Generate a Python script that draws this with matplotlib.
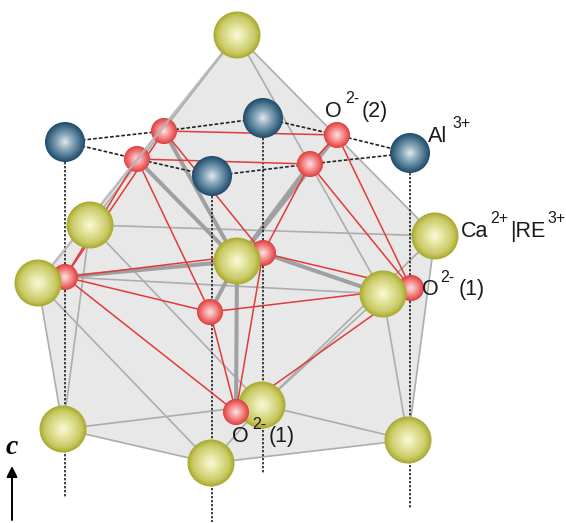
import numpy as np
import matplotlib
matplotlib.use("Agg")
import matplotlib.pyplot as plt
from matplotlib.colors import LinearSegmentedColormap
from matplotlib.patches import Circle, Polygon

# atom positions
yellow_names = ["top", "upleft", "left", "right_up", "right", "center", "bl", "bc", "bm", "br"]
yellow_x = [237, 90, 38, 435, 383, 237, 63, 262, 211, 408]
yellow_y = [35, 225, 283, 236, 294, 261, 429, 405, 463, 440]

blue_names = ["al1", "al2", "al3", "al4"]
blue_x = [65, 263, 212, 410]
blue_y = [142, 118, 176, 153]

red_names = ["a", "b", "c", "d", "l", "m", "n", "r", "o"]
red_x = [164, 137, 337, 310, 65, 263, 210, 411, 236]
red_y = [131, 159, 135, 164, 277, 253, 312, 288, 412]

hull = ["top", "right_up", "br", "bm", "bl", "left"]

thin_bonds = [("top", "right_up"), ("top", "right"), ("upleft", "right_up"), ("upleft", "bl"),
              ("upleft", "bc"), ("left", "bl"), ("left", "bm"), ("l", "right"),
              ("bl", "bc"), ("bl", "bm"), ("bm", "br"), ("bc", "br"), ("bm", "bc"),
              ("bc", "right"), ("bc", "right_up"), ("right", "br"), ("right_up", "br"),
              ("top", "upleft")]
thick_bonds = [("a", "center"), ("b", "center"), ("c", "center"), ("d", "center"),
               ("l", "center"), ("m", "right"), ("center", "o"), ("center", "n")]
red_bonds = [("a", "c"), ("b", "d"), ("a", "l"), ("b", "l"), ("a", "m"), ("b", "n"),
             ("c", "r"), ("d", "r"), ("c", "d"), ("d", "m"), ("l", "m"), ("l", "n"),
             ("l", "o"), ("n", "o"), ("m", "o"), ("n", "r"), ("m", "r"), ("o", "r")]
dash_bonds = [("al1", "a"), ("al1", "b"), ("a", "al2"), ("b", "al3"), ("al3", "d"),
              ("al2", "c"), ("c", "al4"), ("d", "al4")]

drop_names = ["al1", "al3", "al2", "al4"]
drop_end = [498, 522, 473, 508]

pos = {}
for names, xs, ys in [(yellow_names, yellow_x, yellow_y), (blue_names, blue_x, blue_y), (red_names, red_x, red_y)]:
    for n, x, y in zip(names, xs, ys):
        pos[n] = (x, y)

fig = plt.figure(figsize=(5.66, 5.23), dpi=100)
ax = fig.add_axes([0, 0, 1, 1])
ax.set_xlim(0, 566)
ax.set_ylim(523, 0)
ax.axis("off")

ax.add_patch(Polygon([pos[n] for n in hull], closed=True, fc="#e8e8e8", ec="none", zorder=1))


def bond(p, q, **kw):
    ax.plot([pos[p][0], pos[q][0]], [pos[p][1], pos[q][1]], solid_capstyle="butt", **kw)


for p, q in thin_bonds:
    bond(p, q, color="#adadad", lw=1.2, zorder=2)
for p, q in thick_bonds:
    bond(p, q, color="#a0a0a0", lw=2.9, zorder=2.5)
for p, q in dash_bonds:
    bond(p, q, color="#222222", lw=1.2, ls=(0, (2.2, 1.2)), zorder=3)
for n, end in zip(drop_names, drop_end):
    ax.plot([pos[n][0], pos[n][0]], [pos[n][1], end], color="#222222", lw=1.2, ls=(0, (1.4, 1)), zorder=3)
for p, q in red_bonds:
    bond(p, q, color="#e23a3a", lw=1.1, zorder=4)


def sphere(x, y, r, colors, z):
    cmap = LinearSegmentedColormap.from_list("s", colors)
    for f in np.linspace(1, 0.04, 30):
        ax.add_patch(Circle((x, y), r * f, fc=cmap(f), ec="none", zorder=z))


yellow_col = [(0, "#fbfbdc"), (0.35, "#e6e7a4"), (0.8, "#c8c962"), (1, "#a9ab30")]
blue_col = [(0, "#e6edf1"), (0.4, "#8aa8ba"), (0.8, "#416c88"), (1, "#234d6b")]
red_col = [(0, "#fde8e8"), (0.35, "#f8aaaa"), (0.8, "#ec5f5f"), (1, "#dc4242")]

for n, x, y in zip(blue_names, blue_x, blue_y):
    sphere(x, y, 20, blue_col, 6)
for n, x, y in zip(red_names, red_x, red_y):
    sphere(x, y, 13, red_col, 8 if n == "o" else 5)
for n, x, y in zip(yellow_names, yellow_x, yellow_y):
    sphere(x, y, 23.5, yellow_col, 7)

# hull edge runs over the two upper oxygens but under the big spheres
bond("top", "left", color="#b4b4b4", lw=1.9, alpha=0.85, zorder=5.5)

font = dict(family="Liberation Sans", color="#1a1a1a", zorder=10, va="baseline")
ax.text(325, 117, "O", fontsize=15.5, **font)
ax.text(345, 103, "2-", fontsize=11.5, **font)
ax.text(362, 117, "(2)", fontsize=15.5, **font)
ax.text(428, 142, "Al", fontsize=15.5, **font)
ax.text(452, 128, "3+", fontsize=11.5, **font)
ax.text(461, 237, "Ca", fontsize=15.5, **font)
ax.text(490, 223, "2+", fontsize=11.5, **font)
ax.text(510, 237, "|RE", fontsize=15.5, **font)
ax.text(547, 223, "3+", fontsize=11.5, **font)
ax.text(422, 295, "O", fontsize=15.5, **font)
ax.text(440, 282, "2-", fontsize=11.5, **font)
ax.text(459, 295, "(1)", fontsize=15.5, **font)
ax.text(232, 442, "O", fontsize=15.5, **font)
ax.text(252, 429, "2-", fontsize=11.5, **font)
ax.text(269, 442, "(1)", fontsize=15.5, **font)

ax.text(12, 454, "c", fontsize=20, family="Liberation Serif", style="italic", weight="bold",
        ha="center", va="baseline", color="black", zorder=10)
ax.annotate("", xy=(12, 466), xytext=(12, 520),
            arrowprops=dict(arrowstyle="-|>", color="black", lw=1.4, mutation_scale=16, shrinkA=0, shrinkB=0))

fig.savefig("out.png", dpi=100)
